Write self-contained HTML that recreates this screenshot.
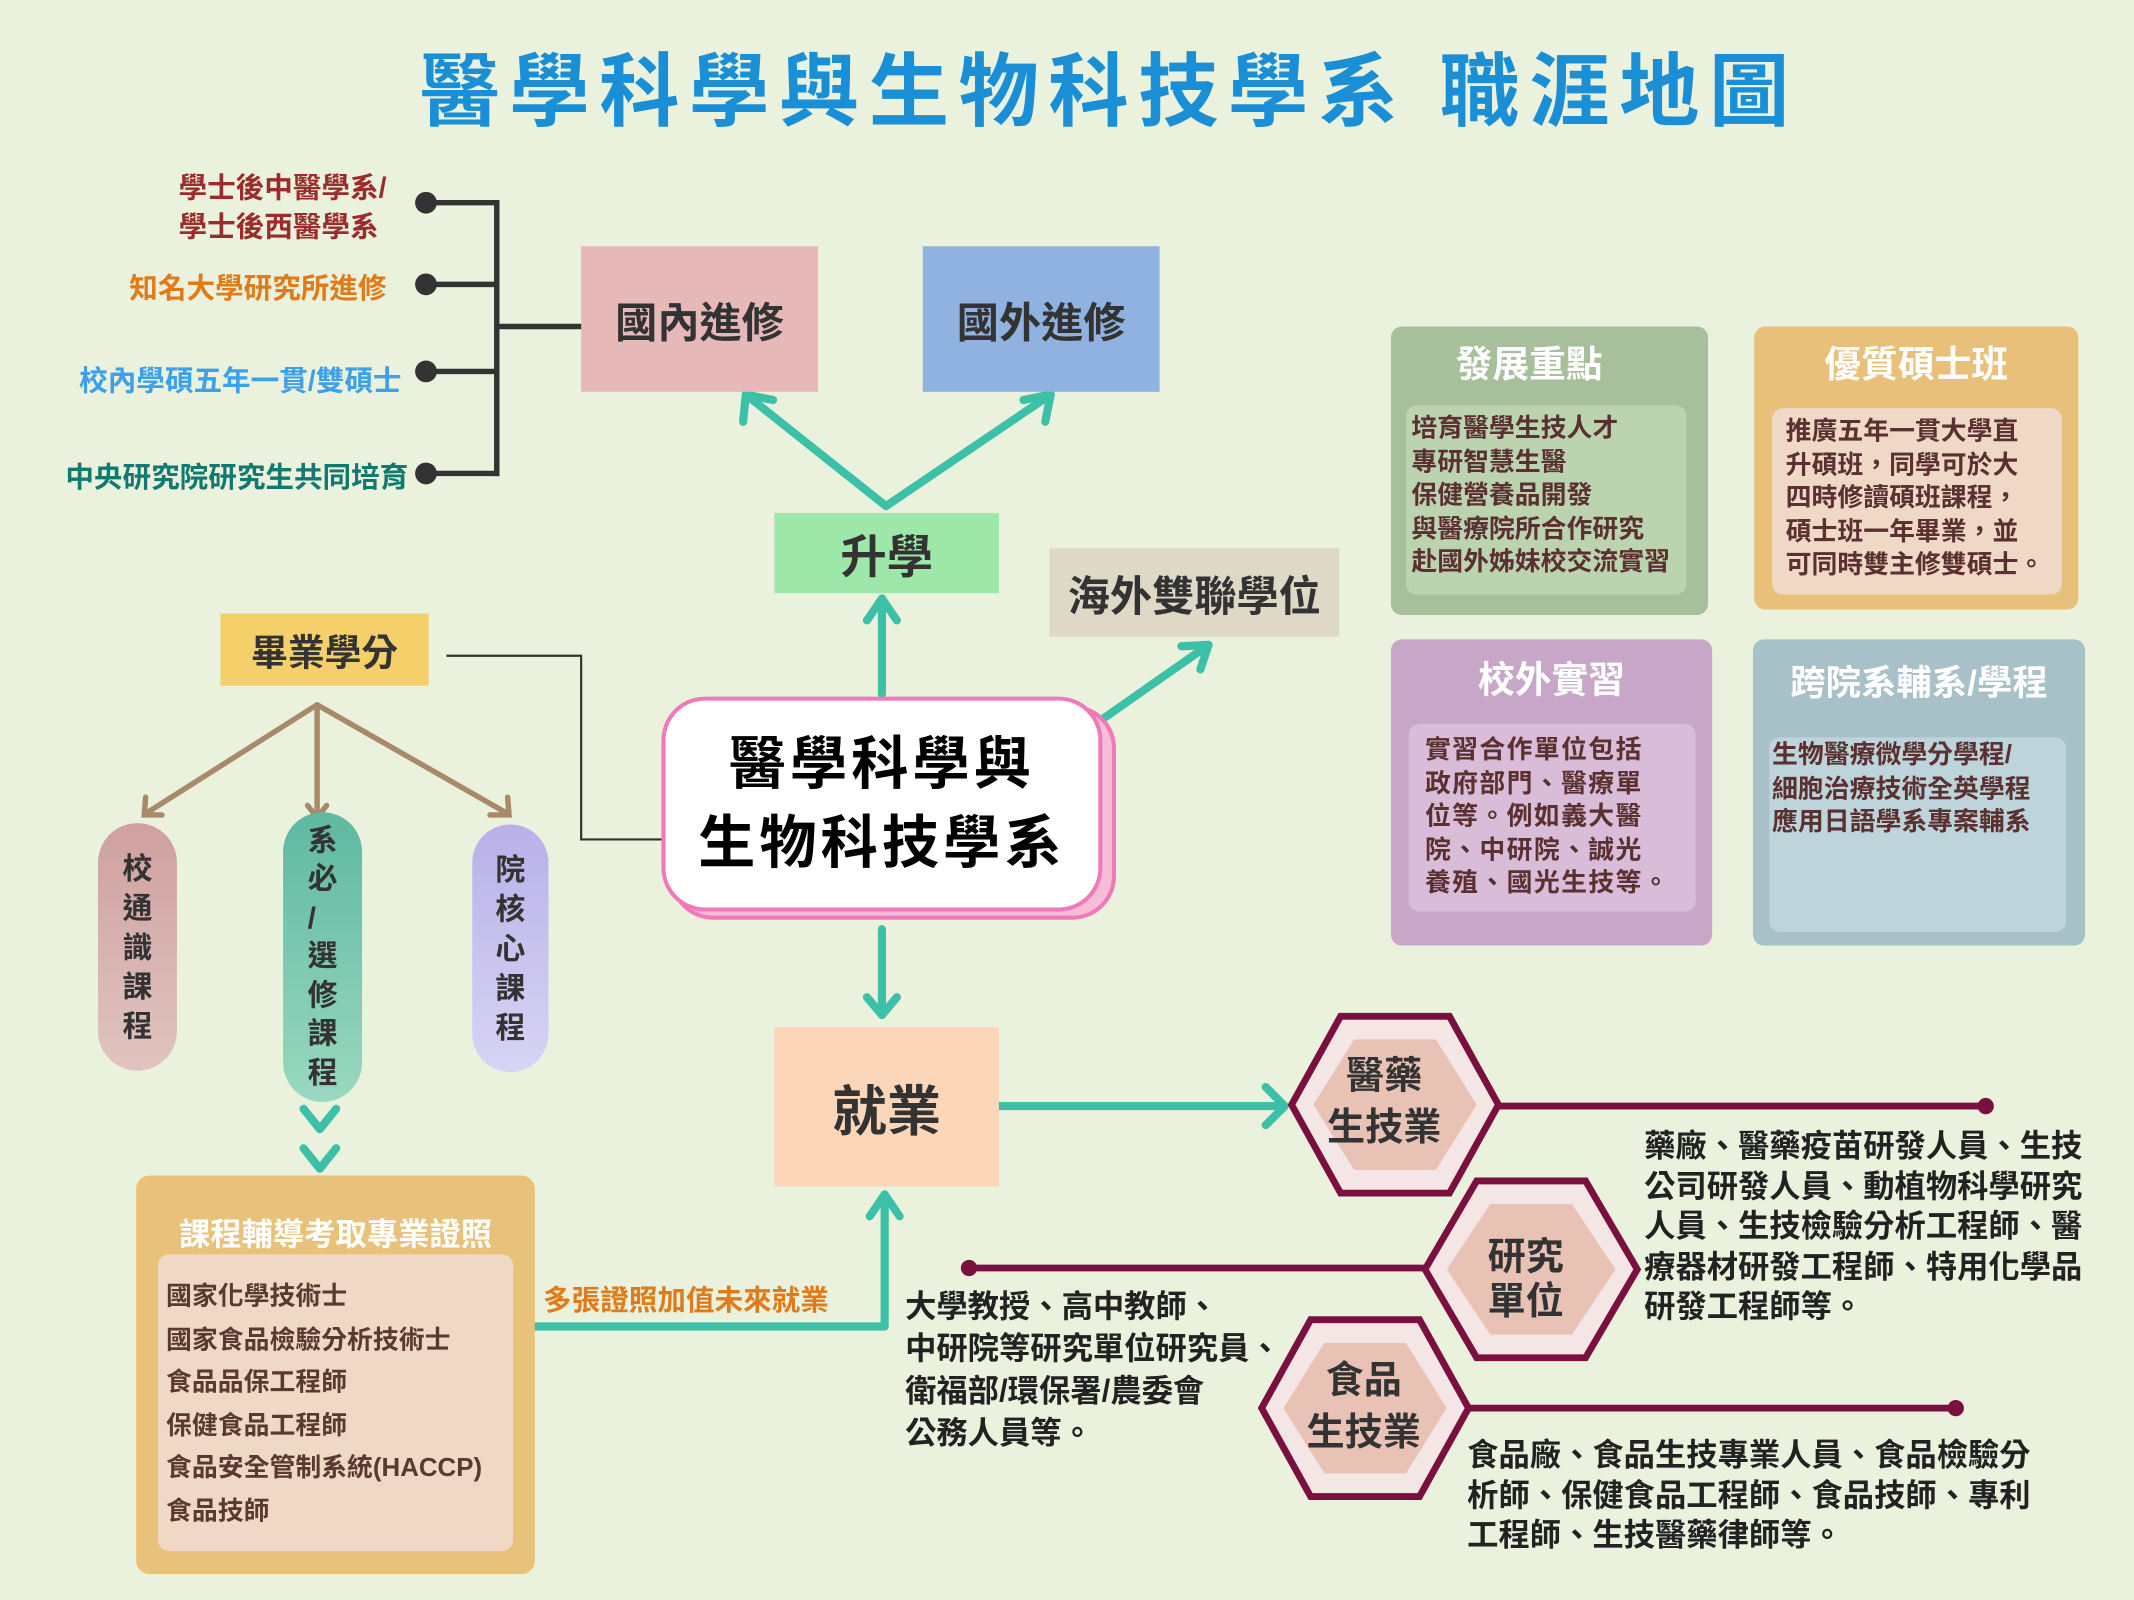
<!DOCTYPE html>
<html><head><meta charset="utf-8">
<style>
html,body{margin:0;padding:0;width:2134px;height:1600px;overflow:hidden;background:#eaf1dd;}
#w{position:absolute;left:0;top:0;width:1568px;height:1176px;transform:scale(1.361,1.3605);transform-origin:0 0;font-family:"Liberation Sans","Noto Sans CJK TC",sans-serif;font-weight:bold;}
.a{position:absolute;white-space:nowrap;}
.box{position:absolute;display:flex;align-items:center;justify-content:center;color:#333;}
.pill{position:absolute;border-radius:30px;display:flex;flex-direction:column;align-items:center;justify-content:center;font-size:22px;color:#333;line-height:29px;}
.panel{position:absolute;border-radius:8px;}
.inner{position:absolute;border-radius:8px;color:#5a3030;font-size:19px;line-height:24.5px;padding:6px 4px;box-sizing:border-box;white-space:nowrap;}
.ptitle{position:absolute;left:0;right:0;text-align:center;color:#fff;font-size:27px;}
svg{position:absolute;left:0;top:0;}
</style></head><body><div id="w">
<svg width="1568" height="1176" viewBox="0 0 1568 1176">
<g stroke="#333" stroke-width="4" fill="none">
<line x1="313" y1="149" x2="367" y2="149"/><line x1="313" y1="209" x2="367" y2="209"/>
<line x1="313" y1="273" x2="367" y2="273"/><line x1="313" y1="348" x2="367" y2="348"/>
<line x1="365" y1="147" x2="365" y2="350"/><line x1="365" y1="240" x2="428" y2="240"/>
</g>
<g fill="#333"><circle cx="313" cy="149" r="8"/><circle cx="313" cy="209" r="8"/><circle cx="313" cy="273" r="8"/><circle cx="313" cy="348" r="8"/></g>
<g stroke="#3cc0a8" stroke-width="6" fill="none" stroke-linecap="round" stroke-linejoin="round">
<polyline points="548,290 651,372 772,290"/>
<polyline points="546,310 548,290 568,294"/><polyline points="752,294 772,290 768,310"/>
<line x1="648" y1="510" x2="648" y2="440"/><polyline points="637,456 648,440 659,456"/>
<line x1="808" y1="530" x2="888" y2="474"/><polyline points="868,475 888,474 882,492"/>
<line x1="648" y1="683" x2="648" y2="746"/><polyline points="637,733 648,746 659,733"/>
<polyline points="393,975 650,975 650,878"/><polyline points="639,894 650,878 661,894"/>
<line x1="734" y1="813" x2="943" y2="813"/><polyline points="930,799 944,813 930,827"/>
<polyline points="223,815 235,830 247,815"/><polyline points="223,844 235,859 247,844"/>
</g>
<g stroke="#a8896a" stroke-width="4" fill="none" stroke-linecap="round">
<line x1="233" y1="518" x2="107" y2="598"/><polyline points="107,586 106,599 119,599"/>
<line x1="233" y1="518" x2="233" y2="600"/><polyline points="226,592 233,601 240,592"/>
<line x1="233" y1="518" x2="373" y2="598"/><polyline points="360,599 374,599 373,586"/>
</g>
<polyline points="328,482 427,482 427,617 487,617" stroke="#333" stroke-width="1.6" fill="none"/>
<g stroke="#7a1040" stroke-width="5"><line x1="1098" y1="813" x2="1458" y2="813"/><line x1="713" y1="932" x2="1052" y2="932"/><line x1="1078" y1="1035" x2="1437" y2="1035"/></g>
<g fill="#7a1040"><circle cx="1459" cy="813" r="6"/><circle cx="712" cy="932" r="6"/><circle cx="1437" cy="1035" r="6"/></g>
<g stroke="#7a1040" stroke-width="5">
<polygon points="985,747 1065,747 1101,812 1065,877 985,877 949,812" fill="#f4e6e4"/>
<polygon points="995,764 1055,764 1085,812 1055,860 995,860 965,812" fill="#e9c2b6" stroke="none"/>
<polygon points="1085,868 1165,868 1203,933 1165,998 1085,998 1047,933" fill="#f4e6e4"/>
<polygon points="1095,885 1155,885 1187,933 1155,981 1095,981 1063,933" fill="#e9c2b6" stroke="none"/>
<polygon points="963,970 1043,970 1079,1035 1043,1100 963,1100 927,1035" fill="#f4e6e4"/>
<polygon points="973,987 1033,987 1063,1035 1033,1083 973,1083 943,1035" fill="#e9c2b6" stroke="none"/>
</g>
</svg>

<div class="a" style="left:0;width:1630px;top:20px;text-align:center;font-size:59px;color:#1a8fd6;letter-spacing:7px;">醫學科學與生物科技學系 職涯地圖</div>

<div class="a" style="right:1284px;top:124px;font-size:21px;color:#9b2c2c;line-height:29px;text-align:left;">學士後中醫學系/<br>學士後西醫學系</div>
<div class="a" style="right:1284px;top:196px;font-size:21px;color:#e07b1a;">知名大學研究所進修</div>
<div class="a" style="right:1273px;top:264px;font-size:21px;color:#3ea0e8;">校內學碩五年一貫/雙碩士</div>
<div class="a" style="right:1268px;top:335px;font-size:21px;color:#117a70;">中央研究院研究生共同培育</div>

<div class="box" style="left:427px;top:181px;width:174px;height:107px;background:#e6b8b8;font-size:31px;">國內進修</div>
<div class="box" style="left:678px;top:181px;width:174px;height:107px;background:#8fb2e0;font-size:31px;">國外進修</div>
<div class="box" style="left:569px;top:377px;width:165px;height:59px;background:#9de8a8;font-size:34px;">升學</div>
<div class="box" style="left:771px;top:403px;width:213px;height:65px;background:#ddd9c6;font-size:31px;">海外雙聯學位</div>

<div style="position:absolute;left:492px;top:518px;width:322px;height:152px;border:3px solid #f07ab8;border-radius:32px;background:#f8bcd8;"></div>
<div class="box" style="left:486px;top:512px;width:318px;height:152px;border:3px solid #f07ab8;border-radius:32px;background:#fff;color:#000;font-size:42px;line-height:58px;flex-direction:column;letter-spacing:3px;"><div>醫學科學與</div><div>生物科技學系</div></div>

<div class="box" style="left:162px;top:451px;width:153px;height:53px;background:#f5cf6a;font-size:27px;">畢業學分</div>

<div class="pill" style="left:72px;top:605px;width:58px;height:182px;background:linear-gradient(#cfa0a0,#e0c4c0);">校<br>通<br>識<br>課<br>程</div>
<div class="pill" style="left:208px;top:597px;width:58px;height:213px;background:linear-gradient(#5fb8a0,#9ad8c0);line-height:28.5px;">系<br>必<br>/<br>選<br>修<br>課<br>程</div>
<div class="pill" style="left:347px;top:606px;width:56px;height:182px;background:linear-gradient(#b8b0e8,#d8d4f4);">院<br>核<br>心<br>課<br>程</div>

<div class="panel" style="left:100px;top:864px;width:293px;height:293px;background:#e8c27a;border-radius:10px;">
<div class="ptitle" style="top:24px;font-size:23px;">課程輔導考取專業證照</div>
<div class="inner" style="left:16px;top:58px;width:261px;height:218px;background:#efd8c5;font-size:19px;line-height:31.6px;padding:16px 6px;color:#5a3a30;">國家化學技術士<br>國家食品檢驗分析技術士<br>食品品保工程師<br>保健食品工程師<br>食品安全管制系統(HACCP)<br>食品技師</div>
</div>
<div class="a" style="left:399px;top:940px;font-size:21px;color:#e07b1a;">多張證照加值未來就業</div>

<div class="box" style="left:569px;top:755px;width:165px;height:117px;background:#fcd6b8;font-size:40px;">就業</div>

<div class="a" style="left:975px;top:772px;font-size:28px;color:#333;line-height:38px;text-align:center;">醫藥<br>生技業</div>
<div class="a" style="left:1093px;top:907px;font-size:28px;color:#333;line-height:33px;text-align:center;">研究<br>單位</div>
<div class="a" style="left:960px;top:996px;font-size:28px;color:#333;line-height:38px;text-align:center;">食品<br>生技業</div>

<div class="a" style="left:1208px;top:828px;font-size:23px;color:#222;line-height:29.5px;">藥廠、醫藥疫苗研發人員、生技<br>公司研發人員、動植物科學研究<br>人員、生技檢驗分析工程師、醫<br>療器材研發工程師、特用化學品<br>研發工程師等。</div>
<div class="a" style="left:665px;top:945px;font-size:23px;color:#222;line-height:31px;">大學教授、高中教師、<br>中研院等研究單位研究員、<br>衛福部/環保署/農委會<br>公務人員等。</div>
<div class="a" style="left:1078px;top:1055px;font-size:23px;color:#222;line-height:29.5px;">食品廠、食品生技專業人員、食品檢驗分<br>析師、保健食品工程師、食品技師、專利<br>工程師、生技醫藥律師等。</div>

<div class="panel" style="left:1022px;top:240px;width:233px;height:212px;background:#a8bf9c;">
<div class="ptitle" style="top:6px;right:30px;">發展重點</div>
<div class="inner" style="left:11px;top:58px;width:206px;height:139px;background:#bcd3b0;">培育醫學生技人才<br>專研智慧生醫<br>保健營養品開發<br>與醫療院所合作研究<br>赴國外姊妹校交流實習</div></div>
<div class="panel" style="left:1289px;top:240px;width:238px;height:208px;background:#e8c07a;">
<div class="ptitle" style="top:6px;">優質碩士班</div>
<div class="inner" style="left:13px;top:60px;width:213px;height:137px;background:#efd8c5;padding:6px 10px;">推廣五年一貫大學直<br>升碩班，同學可於大<br>四時修讀碩班課程，<br>碩士班一年畢業，並<br>可同時雙主修雙碩士。</div></div>
<div class="panel" style="left:1022px;top:470px;width:236px;height:225px;background:#c8a6c8;">
<div class="ptitle" style="top:8px;">校外實習</div>
<div class="inner" style="left:13px;top:62px;width:211px;height:138px;background:#d8bcd8;padding:8px 12px;letter-spacing:1px;">實習合作單位包括<br>政府部門、醫療單<br>位等。例如義大醫<br>院、中研院、誠光<br>養殖、國光生技等。</div></div>
<div class="panel" style="left:1288px;top:470px;width:244px;height:225px;background:#a8c0c8;">
<div class="ptitle" style="top:12px;font-size:26px;">跨院系輔系/學程</div>
<div class="inner" style="left:12px;top:72px;width:218px;height:143px;background:#bcd4da;padding:2px 2px;">生物醫療微學分學程/<br>細胞治療技術全英學程<br>應用日語學系專案輔系</div></div>
</div></body></html>
